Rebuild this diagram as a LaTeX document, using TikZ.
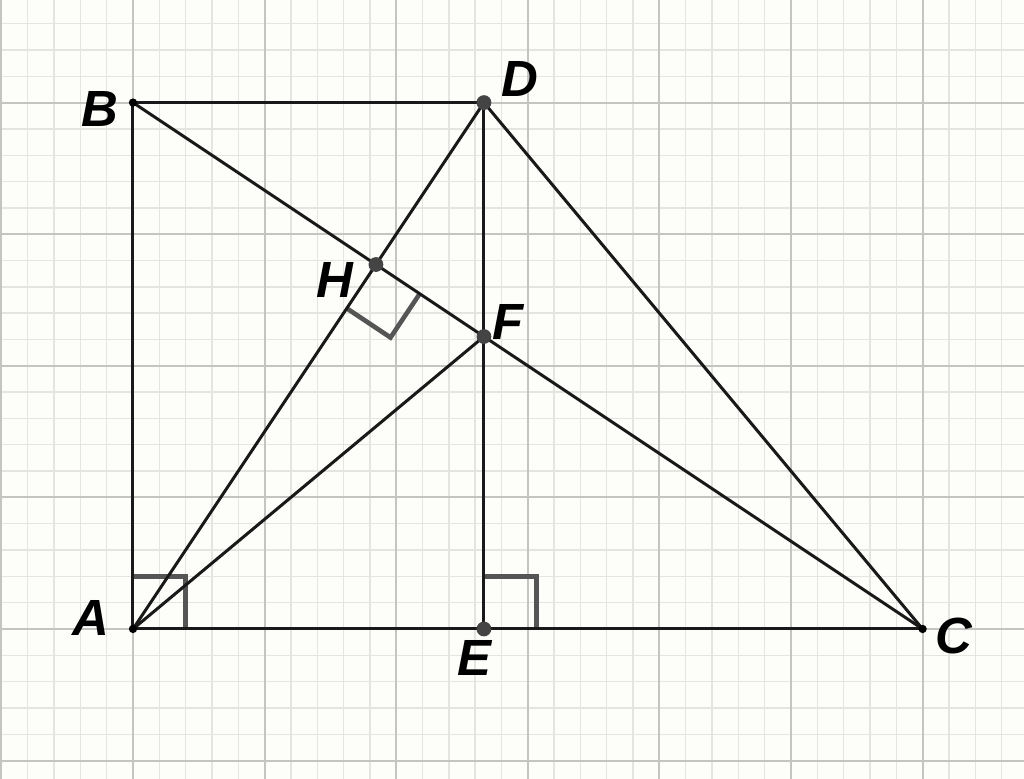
\documentclass[tikz,border=0pt]{standalone}
\usepackage{fontspec}
\setmainfont{Liberation Sans}
\usepackage{tikz}
\usetikzlibrary{calc}

\definecolor{paper}{RGB}{253,253,250}
\definecolor{minorgrid}{RGB}{228,228,224}
\definecolor{majorgrid}{RGB}{196,196,194}
\definecolor{markgray}{RGB}{85,85,85}
\definecolor{dotgray}{RGB}{68,68,68}

\tikzset{
  seg/.style={black!90, line width=0.65pt},
  ramark/.style={markgray, line width=1.0pt},
  lbl/.style={font=\fontsize{11}{13}\selectfont\bfseries\itshape, inner sep=0pt},
  bigdot/.style={fill=dotgray},
  smalldot/.style={fill=black}
}

\begin{document}
\begin{tikzpicture}[scale=1.0]
\useasboundingbox (-1.0106,-1.1398) rectangle (6.7705,4.7796);
\clip (-1.0106,-1.1398) rectangle (6.7705,4.7796);
\fill[paper] (-1.0106,-1.1398) rectangle (6.7705,4.7796);
% grid
\draw[minorgrid, line width=0.3pt, step=0.2] (-1.2,-1.2) grid (7,5);
\draw[majorgrid, line width=0.45pt, step=1] (-1.2,-1.2) grid (7,5);

% points
\coordinate (A) at (0,0);
\coordinate (B) at (0,4);
\coordinate (C) at (6,0);
\coordinate (D) at (8/3,4);
\coordinate (E) at (8/3,0);
\coordinate (F) at (intersection of B--C and D--E);
\coordinate (H) at ($(B)!(A)!(C)$);

% right angles
\draw[ramark] ($(A)+(0.4,0)$) -- ++(0,0.4) -- ++(-0.4,0);
\draw[ramark] ($(E)+(0.4,0)$) -- ++(0,0.4) -- ++(-0.4,0);
\coordinate (h1) at ($(H)!0.4cm!(C)$);
\coordinate (h2) at ($(H)!0.4cm!(A)$);
\draw[ramark] (h1) -- ($(h1)+(h2)-(H)$) -- (h2);

% segments
\draw[seg] (A)--(B);
\draw[seg] (B)--(D);
\draw[seg] (A)--(C);
\draw[seg] (B)--(C);
\draw[seg] (A)--(D);
\draw[seg] (A)--(F);
\draw[seg] (D)--(C);
\draw[seg] (D)--(E);

% dots
\foreach \p in {A,B,C} \fill[smalldot] (\p) circle (0.9pt);
\foreach \p in {D,H,F,E} \fill[bigdot] (\p) circle (1.6pt);

% labels
\path
($(A)+(-0.32,0.08)$) node[lbl]{A};
\path
($(B)+(-0.25,-0.05)$) node[lbl]{B};
\path
($(C)+(0.24,-0.05)$) node[lbl]{C};
\path
($(D)+(0.27,0.18)$) node[lbl]{D};
\path
($(E)+(-0.07,-0.22)$) node[lbl]{E};
\path
($(F)+(0.18,0.11)$) node[lbl]{F};
\path
($(H)+(-0.31,-0.12)$) node[lbl]{H};
\end{tikzpicture}
\end{document}
